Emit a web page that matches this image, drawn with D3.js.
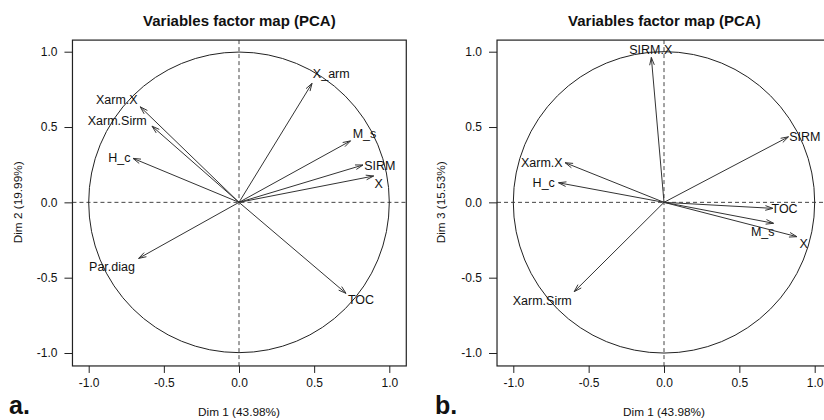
<!DOCTYPE html>
<html>
<head>
<meta charset="utf-8">
<script src="https://d3js.org/d3.v7.min.js"></script>
<style>
  body { margin: 0; background: #fff; }
  text { font-family: "Liberation Sans", Arial, Helvetica, sans-serif; fill: #111; }
</style>
</head>
<body>
<svg id="chart" width="824" height="420"></svg>
<script>
// panel a: Dim 1 vs Dim 2
let varsA = ["X_arm", "Xarm.X", "Xarm.Sirm", "H_c", "Par.diag", "TOC", "M_s", "SIRM", "X"]
let dim1A = [0.486, -0.657, -0.579, -0.705, -0.668, 0.712, 0.742, 0.825, 0.896]
let dim2A = [0.790, 0.634, 0.506, 0.292, -0.372, -0.604, 0.408, 0.248, 0.175]
// where the labels sit (data units)
let labXA = [0.614, -0.813, -0.810, -0.796, -0.845, 0.812, 0.835, 0.937, 0.929]
let labYA = [0.852, 0.679, 0.541, 0.294, -0.427, -0.648, 0.453, 0.241, 0.126]

// panel b: Dim 1 vs Dim 3
let varsB = ["SIRM.X", "SIRM", "Xarm.X", "H_c", "TOC", "M_s", "X", "Xarm.Sirm"]
let dim1B = [-0.084, 0.826, -0.656, -0.700, 0.723, 0.727, 0.882, -0.596]
let dim3B = [0.962, 0.435, 0.263, 0.130, -0.040, -0.139, -0.228, -0.593]
let labXB = [-0.088, 0.935, -0.811, -0.798, 0.800, 0.655, 0.927, -0.808]
let labYB = [1.011, 0.435, 0.263, 0.128, -0.040, -0.195, -0.277, -0.653]

let ticks = [-1.0, -0.5, 0.0, 0.5, 1.0]
let xTitle = "Dim 1 (43.98%)"
let yTitleA = "Dim 2 (19.99%)"
let yTitleB = "Dim 3 (15.53%)"
let title = "Variables factor map (PCA)"

let svg = d3.select("#chart")

function drawPanel(opt) {
    let x = d3.scaleLinear().domain([-1, 1]).range(opt.xr)
    let y = d3.scaleLinear().domain([-1, 1]).range([353, 51.7])
    let g = svg.append("g")

    let bx0 = x(-1.108), bx1 = x(1.113), by0 = y(1.077), by1 = y(-1.086)

    // dashed axes through the origin
    g.append("line").attr("x1", bx0).attr("x2", bx1).attr("y1", y(0)).attr("y2", y(0))
     .attr("stroke", "#444").attr("stroke-dasharray", "4,3")
    g.append("line").attr("x1", x(0)).attr("x2", x(0)).attr("y1", by0).attr("y2", by1)
     .attr("stroke", "#444").attr("stroke-dasharray", "4,3")

    // correlation circle
    g.append("circle").attr("cx", x(0)).attr("cy", y(0))
     .attr("r", x(1) - x(0)).attr("fill", "none").attr("stroke", "#222").attr("stroke-width", 1)

    // box
    g.append("rect").attr("x", bx0).attr("y", by0).attr("width", bx1 - bx0).attr("height", by1 - by0)
     .attr("fill", "none").attr("stroke", "#222").attr("stroke-width", 1.2)

    // axes
    let xAxis = g.append("g").attr("transform", `translate(0,${by1})`)
                 .call(d3.axisBottom(x).tickValues(ticks).tickSize(7).tickPadding(6))
    let yAxis = g.append("g").attr("transform", `translate(${bx0},0)`)
                 .call(d3.axisLeft(y).tickValues(ticks).tickSize(8).tickPadding(7))
    ;[xAxis, yAxis].forEach(function(a) {
        a.select(".domain").remove()
        a.selectAll("line").attr("stroke", "#222")
        a.selectAll("text").style("font-size", "12px").style("font-family", "Liberation Sans, Arial, sans-serif")
         .attr("fill", "#222").text(function(d) { return d3.format(".1f")(d).replace("−", "-") })
    })

    // arrows
    let len = 8, ang = 17 * Math.PI / 180
    opt.vx.forEach(function(v, i) {
        let x0 = x(0), y0 = y(0), x1 = x(v), y1 = y(opt.vy[i])
        let a = Math.atan2(y1 - y0, x1 - x0)
        g.append("line").attr("x1", x0).attr("y1", y0).attr("x2", x1).attr("y2", y1)
         .attr("stroke", "#333").attr("stroke-width", 1)
        g.append("path")
         .attr("d", `M${x1 - len * Math.cos(a - ang)},${y1 - len * Math.sin(a - ang)}L${x1},${y1}L${x1 - len * Math.cos(a + ang)},${y1 - len * Math.sin(a + ang)}`)
         .attr("fill", "none").attr("stroke", "#333").attr("stroke-width", 1)
        g.append("text").attr("x", x(opt.lx[i])).attr("y", y(opt.ly[i])).attr("dy", "0.35em")
         .attr("text-anchor", "middle").style("font-size", "12.5px").text(opt.names[i])
    })

    // titles
    g.append("text").attr("x", (bx0 + bx1) / 2).attr("y", 26).attr("text-anchor", "middle")
     .style("font-size", "15px").style("font-weight", "bold").text(title)
    g.append("text").attr("x", x(0)).attr("y", 416).attr("text-anchor", "middle")
     .style("font-size", "11.8px").text(xTitle)
    g.append("text").attr("transform", `translate(${opt.ytx},${y(0)}) rotate(-90)`).attr("dy", "0.35em")
     .attr("text-anchor", "middle").style("font-size", "11.8px").text(opt.yTitle)
    g.append("text").attr("x", opt.tagX).attr("y", 414)
     .style("font-size", "25px").style("font-weight", "bold").text(opt.tag)
}

drawPanel({ xr: [88.7, 389.3], names: varsA, vx: dim1A, vy: dim2A, lx: labXA, ly: labYA,
            yTitle: yTitleA, ytx: 18, tag: "a.", tagX: 9 })
drawPanel({ xr: [513.3, 814.7], names: varsB, vx: dim1B, vy: dim3B, lx: labXB, ly: labYB,
            yTitle: yTitleB, ytx: 441, tag: "b.", tagX: 435 })
</script>
</body>
</html>
